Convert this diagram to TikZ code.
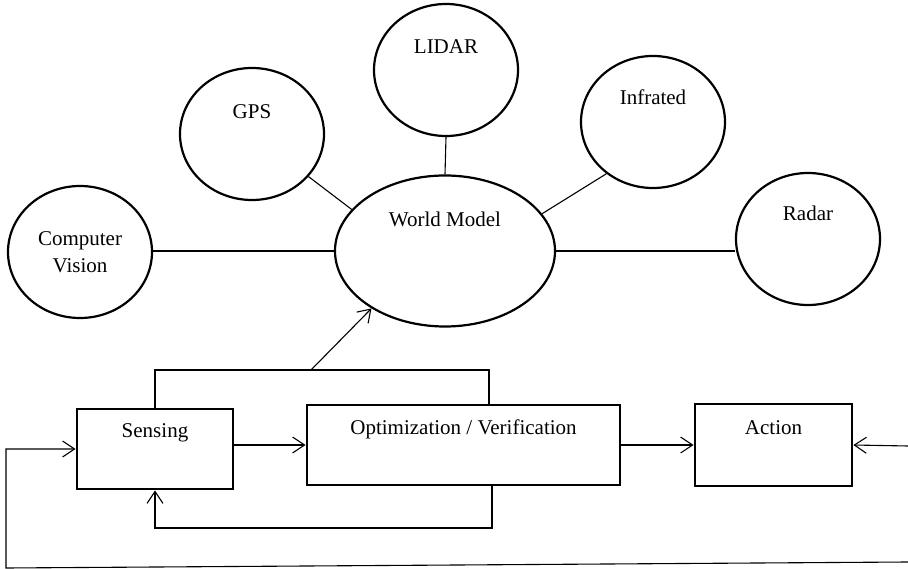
\documentclass[tikz,border=0pt]{standalone}
\usepackage{fontspec}
\setmainfont{Liberation Serif}
\usetikzlibrary{shapes.geometric,arrows.meta,calc}
\begin{document}
\begin{tikzpicture}[x=1pt,y=-1pt,
  font=\fontsize{21}{27}\selectfont,
  sensor/.style={ellipse,draw,line width=2.2pt,minimum width=144pt,minimum height=132pt,inner sep=0pt},
  model/.style={ellipse,draw,line width=2.2pt,minimum width=220pt,minimum height=151pt,inner sep=0pt},
  stage/.style={rectangle,draw,line width=2.8pt,inner sep=0pt},
  caption/.style={text height=14pt,text depth=0pt,inner sep=0pt},
  link/.style={line width=1.1pt},
  arr/.style={link,-{Straight Barb[length=12pt,width=16pt]}},
]
\useasboundingbox (0,0) rectangle (908,569);

% sensors around the world model
\node[sensor,label={[align=center,inner sep=0pt]center:{Computer\\Vision}}] (cv) at (80,252) {};
\node[sensor,label={[caption,yshift=22pt]center:GPS}] (gps) at (252,134) {};
\node[sensor,label={[caption,yshift=23pt]center:LIDAR}] (lidar) at (446,70) {};
\node[sensor,label={[caption,yshift=24pt]center:Infrated}] (ir) at (653,122) {};
\node[sensor,label={[caption,yshift=25pt]center:Radar}] (radar) at (808,239) {};
\node[model,label={[caption,yshift=31pt]center:World Model}] (wm) at (445,251) {};

\draw[link] (cv.east |- wm.west) -- (wm.west);
\draw[link] (gps.-37) -- (wm.156);
\draw[link] (lidar.south) -- (wm.north);
\draw[link] (ir.228) -- (wm.21);
\draw[link] (wm.east) -- (wm.east -| radar.west);

% processing pipeline
\node[stage,minimum width=156pt,minimum height=80pt,label={[caption,yshift=19pt]center:Sensing}] (sense) at (155,449) {};
\node[stage,minimum width=313pt,minimum height=80pt,label={[caption,yshift=18pt]center:Optimization / Verification}] (opt) at (463.5,445) {};
\node[stage,minimum width=157pt,minimum height=82pt,label={[caption,yshift=18pt]center:Action}] (act) at (773.5,445) {};

\draw[arr] (sense.east |- opt.west) -- (opt.west);
\draw[arr] (opt.east) -- (act.west);

\coordinate (rin) at (908,446);
\draw[arr] (rin) -- (act.east);

% outer feedback loop
\coordinate (rb) at (908,562);
\coordinate (lb) at (6,568);
\draw[arr] (rb) -- (lb) |- (sense.west);

% inner feedback loop
\coordinate (fb) at (492,528);
\draw[arr] (fb |- opt.south) -- (fb) -| (sense.south);

% bracket feeding the world model
\coordinate (brR) at (489,370);
\coordinate (up) at (311,370);
\draw[link] (sense.north) |- (brR) -- (brR |- opt.north);
\draw[arr] (up) -- (wm.218);
\end{tikzpicture}
\end{document}
